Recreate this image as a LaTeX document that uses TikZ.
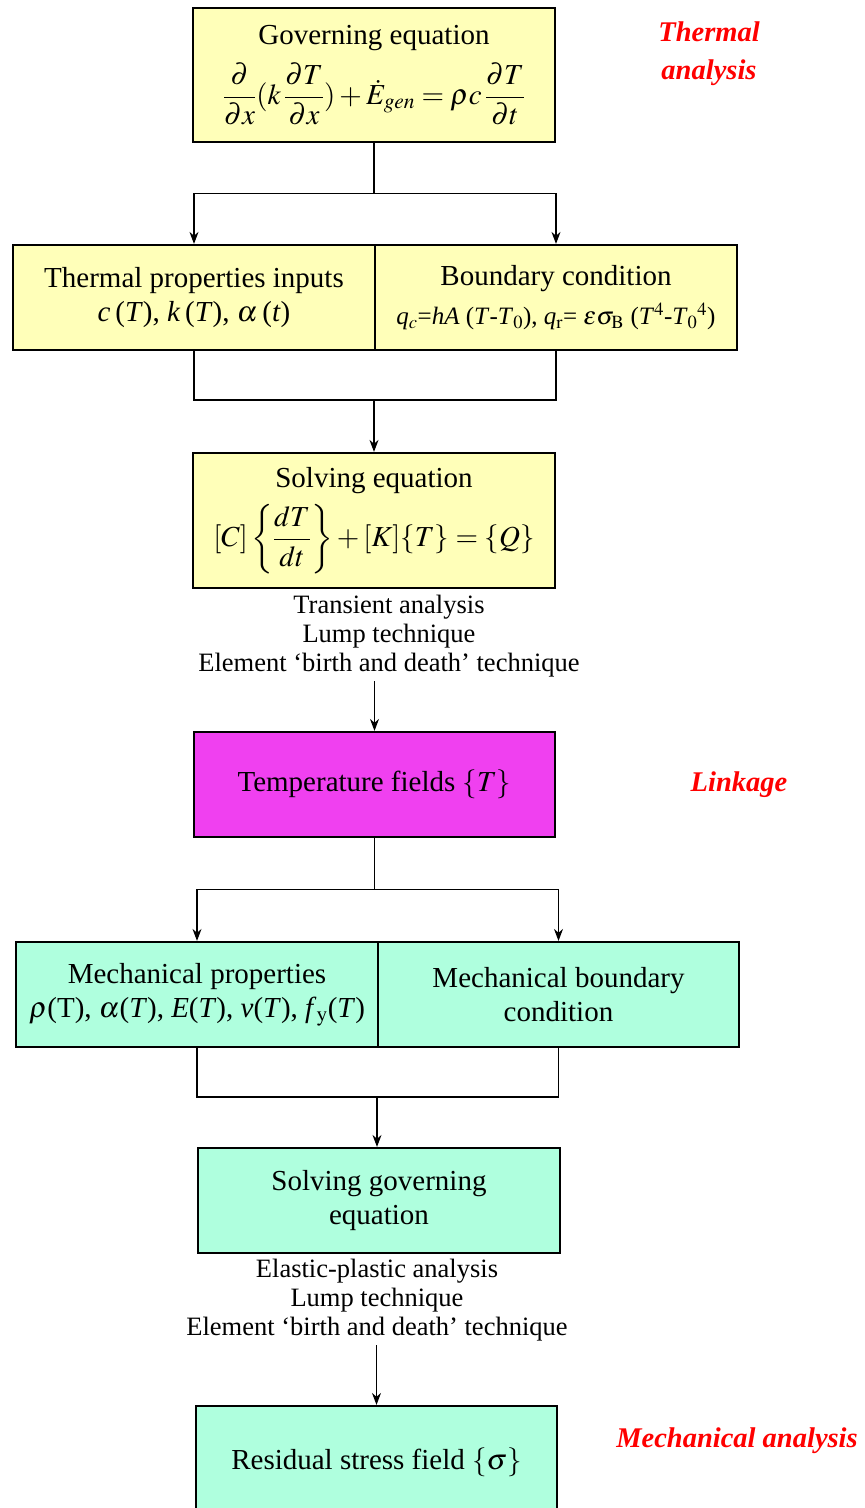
\documentclass[tikz,border=0pt]{standalone}
\usepackage{mathptmx}
\usepackage{fontspec}
\setmainfont{Liberation Serif}
\usetikzlibrary{arrows.meta}

\definecolor{thermfill}{RGB}{255,255,185}
\definecolor{linkfill}{RGB}{240,64,240}
\definecolor{mechfill}{RGB}{175,255,222}

\begin{document}
\begin{tikzpicture}[
  x=1pt, y=-1pt,
  >={Stealth[length=12pt,width=9pt]},
  font=\fontsize{29}{34}\selectfont,
  box/.style={draw, line width=2.2pt, rectangle, inner sep=0pt, align=center},
  therm/.style={box, fill=thermfill},
  link/.style={box, fill=linkfill},
  mech/.style={box, fill=mechfill},
  note/.style={align=center, font=\fontsize{26.5}{29}\selectfont},
  tag/.style={text=red, align=center, font=\fontsize{28.5}{38}\selectfont\bfseries\itshape},
  arr/.style={->, line width=1.2pt},
  ln/.style={line width=1.2pt}
]
\useasboundingbox (0,0) rectangle (865,1508);
\clip (0,0) rectangle (865,1508);

% thermal part
\node[therm, minimum width=362pt, minimum height=134pt] (gov) at (374,75)
  {Governing equation\\[12pt]
   $\displaystyle\frac{\partial}{\partial x}(k\,\frac{\partial T}{\partial x})+\dot{E}_{gen}=\rho c\,\frac{\partial T}{\partial t}$};
\node[therm, minimum width=362pt, minimum height=105pt] (tp) at (194,297.5)
  {Thermal properties inputs\\\textit{c}\,(\textit{T}), \textit{k}\,(\textit{T}), $\alpha$\,(\textit{t})};
\node[therm, minimum width=362pt, minimum height=105pt] (bc) at (556,297.5)
  {Boundary condition\\[5pt]{\fontsize{25}{30}\selectfont\textit{q$_c$}=\textit{hA} (\textit{T}-\textit{T}$_0$), \textit{q}$_\mathrm{r}$= $\varepsilon\sigma_\mathrm{B}$ (\textit{T}$^4$-\textit{T}$_0{}^4$)}};
\node[therm, minimum width=362pt, minimum height=135pt] (solve) at (374,520.5)
  {Solving equation\\[10pt]
   $\displaystyle[C]\left\{\frac{dT}{dt}\right\}+[K]\{T\}=\{Q\}$};
\node[note, anchor=north] (notes1) at (389,592)
  {Transient analysis\\Lump technique\\Element `birth and death' technique};

% linkage
\node[link, minimum width=361pt, minimum height=105pt] (temp) at (374.5,784.5)
  {Temperature fields $\{T\}$};

% mechanical part
\node[mech, minimum width=362pt, minimum height=105pt] (mp) at (197,994.5)
  {Mechanical properties\\$\rho$(T), $\alpha$(\textit{T}), \textit{E}(\textit{T}), \textit{v}(\textit{T}), \textit{f}$_\mathrm{y}$(\textit{T})};
\node[mech, minimum width=361pt, minimum height=105pt] (mbc) at (558.5,994.5)
  {Mechanical boundary\\condition};
\node[mech, minimum width=362pt, minimum height=105pt] (solve2) at (379,1200.5)
  {Solving governing\\equation};
\node[note, anchor=north] (notes2) at (377,1256)
  {Elastic-plastic analysis\\Lump technique\\Element `birth and death' technique};
\node[mech, minimum width=361pt, minimum height=112pt] (res) at (376.5,1462)
  {Residual stress field $\{\sigma\}$};

% side tags
\node[tag] (thermtag) at (709,54) {Thermal\\analysis};
\node[tag] (linktag) at (739,785) {Linkage};
\node[tag] (mechtag) at (737,1441) {Mechanical analysis};

% connectors
\path (gov.south) ++(0,50) coordinate (s1);
\draw[ln] (gov.south) -- (s1);
\draw[arr] (s1) -| (tp.north);
\draw[arr] (s1) -| (bc.north);
\path (solve.north) ++(0,-52) coordinate (j1);
\draw[ln] (tp.south) |- (j1) -| (bc.south);
\draw[arr] (j1) -- (solve.north);
\draw[arr] (notes1.south -| temp.north) -- (temp.north);

\path (temp.south) ++(0,51) coordinate (s2);
\draw[ln] (temp.south) -- (s2);
\draw[arr] (s2) -| (mp.north);
\draw[arr] (s2) -| (mbc.north);
\coordinate (j2) at (377,1097);
\draw[ln] (mp.south) |- (j2) -| (mbc.south);
\draw[arr] (j2) -- (j2 |- solve2.north);
\draw[arr] (notes2.south -| res.north) -- (res.north);
\end{tikzpicture}
\end{document}
